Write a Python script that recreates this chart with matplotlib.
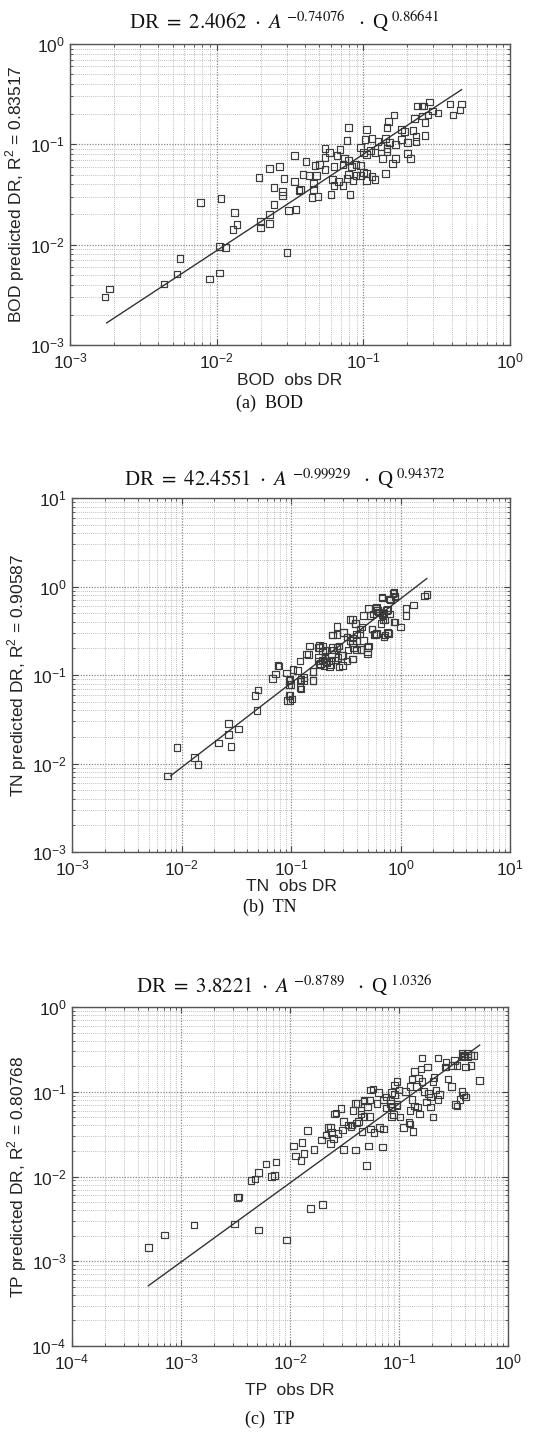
import numpy as np
import matplotlib
matplotlib.use("Agg")
import matplotlib.pyplot as plt
from matplotlib.ticker import LogLocator, NullFormatter, LogFormatterSciNotation

plt.rcParams['mathtext.fontset'] = 'stix'
plt.rcParams['font.family'] = ['Liberation Sans', 'DejaVu Sans']

# ---------------- data (log10 of DR values) ----------------
bod_obs_log10 = [
    -2.76, -2.73, -2.36, -2.27, -2.25, -2.05, -1.98, -1.98, -1.94, -2.11,
    -1.97, -1.88, -1.86, -1.89, -1.70, -1.70, -1.64, -1.64, -1.61, -1.61,
    -1.55, -1.55, -1.51, -1.46, -1.52, -1.71, -1.64, -1.57, -1.54, -1.47,
    -1.47, -1.44,
    -0.55, -0.59, -0.63, -0.60, -0.41, -0.33, -0.34, -0.39, -0.49, -0.53,
    -0.56, -0.58, -0.65, -0.60, -0.79, -0.83, -0.84, -1.10, -1.11, -0.98,
    -0.74, -0.72, -0.66, -0.64, -0.58, -0.99, -0.94, -0.90, -0.85, -0.82,
    -0.78, -0.74, -0.70, -0.64, -1.02, -1.00, -0.98, -0.95, -0.92, -0.88,
    -0.84, -0.84, -0.87, -0.78, -0.80, -0.70, -0.68, -1.26, -1.23, -1.16,
    -1.18, -1.13, -1.26, -1.39, -1.33, -1.30, -1.26, -1.20, -1.14, -1.10,
    -1.08, -1.05, -1.02, -1.00, -1.02, -1.10, -1.05, -0.98, -0.94, -0.85,
    -1.41, -1.37, -1.32, -1.21, -1.17, -1.14, -1.11, -1.07, -1.20, -0.98,
    -0.92, -1.34, -1.34, -1.43, -1.35, -1.31, -1.22, -1.09,
]
bod_pred_log10 = [
    -2.52, -2.44, -2.39, -2.29, -2.14, -2.34, -2.28, -2.02, -2.03, -1.58,
    -1.54, -1.68, -1.80, -1.85, -1.77, -1.83, -1.79, -1.70, -1.60, -1.43,
    -1.47, -1.51, -1.66, -1.65, -2.08, -1.33, -1.24, -1.22, -1.34, -1.11,
    -1.37, -1.46,
    -0.58, -0.62, -0.62, -0.62, -0.60, -0.60, -0.66, -0.71, -0.69, -0.67,
    -0.71, -0.78, -0.74, -0.72, -0.71, -0.77, -0.83, -0.83, -0.96, -0.85,
    -0.85, -0.87, -0.86, -0.92, -0.91, -0.95, -0.94, -0.97, -0.94, -0.98,
    -1.00, -0.95, -0.98, -0.97, -1.03, -1.08, -1.10, -1.06, -1.08, -1.02,
    -1.04, -1.07, -1.14, -1.14, -1.19, -1.09, -1.14, -1.04, -1.08, -1.05,
    -1.11, -1.14, -1.13, -1.17, -1.21, -1.20, -1.25, -1.22, -1.20, -1.16,
    -1.22, -1.20, -1.21, -1.28, -1.31, -1.30, -1.31, -1.29, -1.32, -1.29,
    -1.30, -1.31, -1.31, -1.35, -1.37, -1.41, -1.34, -1.36, -1.41, -1.36,
    -1.35, -1.39, -1.45, -1.45, -1.53, -1.52, -1.50, -1.50,
]
bod_fit_obs_log10 = [-2.75, -0.33]
bod_fit_pred_log10 = [-2.78, -0.455]

tn_obs_log10 = [
    -2.13, -2.04, -1.88, -1.85, -1.66, -1.57, -1.57, -1.55, -1.48, -1.31,
    -1.33, -1.30, -1.17, -1.14, -1.12, -1.04, -1.01, -1.02, -1.03, -0.99,
    -1.01, -0.94, -0.92, -0.92, -0.91, -0.88, -0.86, -0.83, -0.80, -0.80,
    -0.75, -0.75, -0.71, -0.69, -0.67, -0.64, -0.63, -0.61, -0.58, -0.56,
    -0.54, -0.53, -0.58, -0.62, -0.52, -0.49, -0.46, -0.44, -0.44, -0.41,
    -0.40, -0.37, -0.36, -0.34, -0.30, -0.29, -0.29, -0.26, -0.25, -0.23,
    -0.22, -0.20, -0.18, -0.17, -0.16, -0.14, -0.13, -0.12, -0.10, -0.07,
    -0.05, -0.05, 0.00, 0.05, 0.05, 0.12, 0.22, 0.24,
    -0.73, -0.70, -0.68, -0.17, -0.15,
    -1.11, -1.02, -1.00, -0.92, -0.98, -0.91, -1.02, -1.01, -0.88, -0.80,
    -0.80, -0.84, -0.74, -0.74, -0.71, -0.75, -0.71, -0.69, -0.67, -0.64,
    -0.60, -0.74, -0.65, -0.56, -0.57, -0.53, -0.49, -0.62, -0.58, -0.62,
    -0.58, -0.52, -0.44, -0.44, -0.48, -0.43, -0.40, -0.44, -0.46, -0.41,
    -0.37, -0.34, -0.36, -0.30, -0.30, -0.40, -0.35, -0.28, -0.26, -0.24,
    -0.22, -0.23, -0.21, -0.19, -0.17, -0.16, -0.16, -0.15, -0.11, -0.12,
    -0.10, -0.14, -0.09, -0.06, -0.05, -0.06,
]
tn_pred_log10 = [
    -2.14, -1.82, -1.93, -2.01, -1.77, -1.55, -1.67, -1.81, -1.61, -1.40,
    -1.23, -1.17, -1.04, -0.99, -0.89, -0.98, -1.05, -1.11, -1.29, -1.27,
    -1.23, -0.95, -0.84, -1.14, -1.05, -1.06, -0.76, -0.67, -1.06, -0.96,
    -0.84, -0.69, -0.67, -0.72, -0.86, -0.84, -0.76, -0.72, -0.69, -0.67,
    -0.78, -0.89, -0.45, -0.55, -0.52, -0.57, -0.61, -0.37, -0.82, -0.42,
    -0.54, -0.48, -0.71, -0.33, -0.76, -0.67, -0.25, -0.48, -0.31, -0.54,
    -0.23, -0.29, -0.42, -0.12, -0.31, -0.55, -0.27, -0.52, -0.14, -0.08,
    -0.40, -0.12, -0.46, -0.25, -0.33, -0.21, -0.11, -0.09,
    -0.87, -0.89, -0.85, -0.32, -0.30,
    -0.90, -1.06, -1.11, -1.07, -0.94, -1.16, -1.23, -1.29, -1.03, -0.96,
    -1.06, -0.77, -0.66, -0.69, -0.73, -0.80, -0.83, -0.81, -0.85, -0.88,
    -0.83, -0.88, -0.91, -0.91, -0.80, -0.78, -0.84, -0.69, -0.69, -0.55,
    -0.54, -0.52, -0.64, -0.58, -0.72, -0.69, -0.72, -0.82, -0.37, -0.42,
    -0.53, -0.61, -0.71, -0.69, -0.74, -0.61, -0.46, -0.33, -0.48, -0.54,
    -0.53, -0.25, -0.27, -0.30, -0.13, -0.33, -0.37, -0.57, -0.53, -0.26,
    -0.31, -0.38, -0.15, -0.07, -0.11, -0.40,
]
tn_fit_obs_log10 = [-2.10, 0.24]
tn_fit_pred_log10 = [-2.14, 0.09]

tp_obs_log10 = [
    -3.30, -3.15, -2.88, -2.51, -2.29, -2.03, -2.48, -2.47, -2.36, -2.32,
    -2.29, -2.22, -2.17, -2.14, -2.13, -1.81, -1.70,
    -1.97, -1.95, -1.89, -1.87, -1.90, -1.84, -1.78, -1.71, -1.67, -1.65,
    -1.63, -1.59, -1.53, -1.51, -1.52, -1.51, -1.40, -1.28, -1.15, -1.42,
    -1.40, -1.32, -1.27, -1.37, -1.35, -1.43, -1.30, -1.26, -1.19, -1.26,
    -1.18, -1.14, -1.14, -1.08, -1.12, -1.07, -1.04, -1.02, -1.07, -0.99,
    -0.91, -0.87, -0.96, -0.90, -0.88, -0.86, -0.80, -0.94, -0.88, -0.83,
    -0.81, -0.79, -0.73, -0.71, -0.75, -0.69, -0.79, -0.64, -0.68, -0.66,
    -0.63, -0.55, -0.52, -0.57, -0.51, -0.47, -0.44, -0.41, -0.42, -0.41,
    -0.37, -0.42, -0.39, -0.34, -0.31, -0.26, -0.57, -0.49,
    -1.62, -1.63, -1.60, -1.56, -1.58, -1.47, -1.44, -1.39, -1.38, -1.35,
    -1.32, -1.29, -1.32, -1.27, -1.34, -1.23, -1.24, -1.20, -1.12, -1.08,
    -1.07, -1.04, -1.00, -1.02, -1.05, -1.02, -0.90, -0.90, -0.86, -0.82,
    -0.84, -0.74, -0.77, -0.71, -0.64, -0.69, -0.58, -0.48, -0.39, -0.47,
    -0.42, -0.37, -0.34, -0.40,
]
tp_pred_log10 = [
    -2.84, -2.69, -2.57, -2.56, -2.63, -2.75, -2.25, -2.24, -2.05, -2.03,
    -1.95, -1.85, -2.00, -1.99, -1.83, -2.38, -2.33,
    -1.64, -1.76, -1.60, -1.73, -1.81, -1.46, -1.68, -1.57, -1.51, -1.42,
    -1.61, -1.26, -1.20, -1.35, -1.45, -1.68, -1.69, -1.64, -1.65, -1.22,
    -1.14, -1.11, -1.10, -1.35, -1.26, -1.39, -1.87, -0.98, -1.01, -1.44,
    -1.42, -1.44, -1.10, -1.14, -1.19, -1.01, -0.92, -1.17, -1.29, -1.30,
    -1.36, -1.47, -1.42, -1.38, -0.85, -0.76, -0.73, -1.00, -1.09, -1.18,
    -1.26, -0.88, -1.02, -1.18, -1.12, -1.30, -0.60, -0.60, -0.83, -0.98,
    -1.03, -0.85, -0.94, -0.71, -0.69, -1.17, -1.09, -1.04, -1.00, -0.57,
    -0.55, -0.54, -0.71, -0.69, -0.57, -0.87, -0.65, -0.63,
    -1.48, -1.42, -1.55, -1.49, -1.25, -1.39, -1.41, -1.37, -1.14, -1.22,
    -1.10, -1.18, -1.29, -1.29, -1.47, -1.48, -0.97, -1.14, -1.06, -1.10,
    -1.18, -1.03, -0.98, -1.15, -1.27, -0.88, -0.94, -1.22, -1.17, -0.84,
    -0.94, -0.71, -1.00, -1.06, -1.09, -0.88, -0.71, -1.15, -1.06, -0.69,
    -0.59, -0.59, -0.57, -0.58,
]
tp_fit_obs_log10 = [-3.30, -0.26]
tp_fit_pred_log10 = [-3.29, -0.45]

panels = [
    dict(obs=bod_obs_log10, pred=bod_pred_log10,
         fx=bod_fit_obs_log10, fy=bod_fit_pred_log10,
         lim=(1e-3, 1e0),
         title=r"DR $=\ 2.4062\ \cdot\ A^{\ {-}0.74076}\ \ \cdot$ Q$^{\ 0.86641}$",
         ylabel=r"BOD predicted DR, R$^{\mathdefault{2}}$ = 0.83517",
         xlabel="BOD  obs DR", caption="(a)  BOD",
         box=(70, 44, 510, 345), title_base=29, xlpad=1, cap_y=403),
    dict(obs=tn_obs_log10, pred=tn_pred_log10,
         fx=tn_fit_obs_log10, fy=tn_fit_pred_log10,
         lim=(1e-3, 1e1),
         title=r"DR $=\ 42.4551\ \cdot\ A^{\ {-}0.99929}\ \ \cdot$ Q$^{\ 0.94372}$",
         ylabel=r"TN predicted DR, R$^{\mathdefault{2}}$ = 0.90587",
         xlabel="TN  obs DR", caption="(b)  TN",
         box=(72, 498, 510, 852), title_base=486, xlpad=0, cap_y=907),
    dict(obs=tp_obs_log10, pred=tp_pred_log10,
         fx=tp_fit_obs_log10, fy=tp_fit_pred_log10,
         lim=(1e-4, 1e0),
         title=r"DR $=\ 3.8221\ \cdot\ A^{\ {-}0.8789}\ \ \cdot$ Q$^{\ 1.0326}$",
         ylabel=r"TP predicted DR, R$^{\mathdefault{2}}$ = 0.80768",
         xlabel="TP  obs DR", caption="(c)  TP",
         box=(72, 1007, 508, 1346), title_base=993, xlpad=7, cap_y=1419),
]

W, H = 549, 1432
fig = plt.figure(figsize=(W / 100, H / 100), dpi=100)

for p in panels:
    l, t, r, b = p["box"]
    ax = fig.add_axes([l / W, 1 - b / H, (r - l) / W, (b - t) / H])
    ax.set_xscale("log")
    ax.set_yscale("log")
    ax.set_xlim(*p["lim"])
    ax.set_ylim(*p["lim"])
    for axis in (ax.xaxis, ax.yaxis):
        axis.set_major_locator(LogLocator(base=10, numticks=20))
        axis.set_minor_locator(LogLocator(base=10, subs=np.arange(2, 10), numticks=20))
        axis.set_minor_formatter(NullFormatter())
        axis.set_major_formatter(LogFormatterSciNotation())
    ax.grid(True, which="major", linestyle=(0, (1, 1.2)), color="#8a8a8a", linewidth=0.9)
    ax.grid(True, which="minor", linestyle=(0, (1, 1.5)), color="#a8a8a8", linewidth=0.6)
    ax.set_axisbelow(True)
    ax.tick_params(which="both", direction="in", top=True, right=True,
                   colors="#444444", labelcolor="#222222")
    ax.tick_params(which="major", length=4, labelsize=12.5)
    ax.tick_params(axis="x", which="major", pad=5)
    ax.tick_params(axis="y", which="major", pad=4)
    ax.tick_params(which="minor", length=2)
    for s in ax.spines.values():
        s.set_color("#555555")
        s.set_linewidth(1.0)

    ax.scatter(10 ** np.array(p["obs"]), 10 ** np.array(p["pred"]),
               marker="s", s=22, facecolors="none", edgecolors="#3c3c3c",
               linewidths=0.85, zorder=3)
    ax.plot(10 ** np.array(p["fx"]), 10 ** np.array(p["fy"]),
            color="#333333", linewidth=1.0, zorder=4)

    ax.set_ylabel(p["ylabel"], fontsize=12.5, color="#222222", labelpad=2)
    ax.set_xlabel(p["xlabel"], fontsize=12.5, color="#222222", labelpad=p["xlpad"])

    fig.text(((l + r) / 2 - 6) / W, 1 - p["title_base"] / H, p["title"],
             ha="center", va="baseline", fontsize=15,
             family="Liberation Serif", color="#111111")
    fig.text(270 / W, 1 - p["cap_y"] / H, p["caption"],
             ha="center", va="center", fontsize=13,
             family="Liberation Serif", color="#111111")

fig.savefig("out.png", dpi=100)
